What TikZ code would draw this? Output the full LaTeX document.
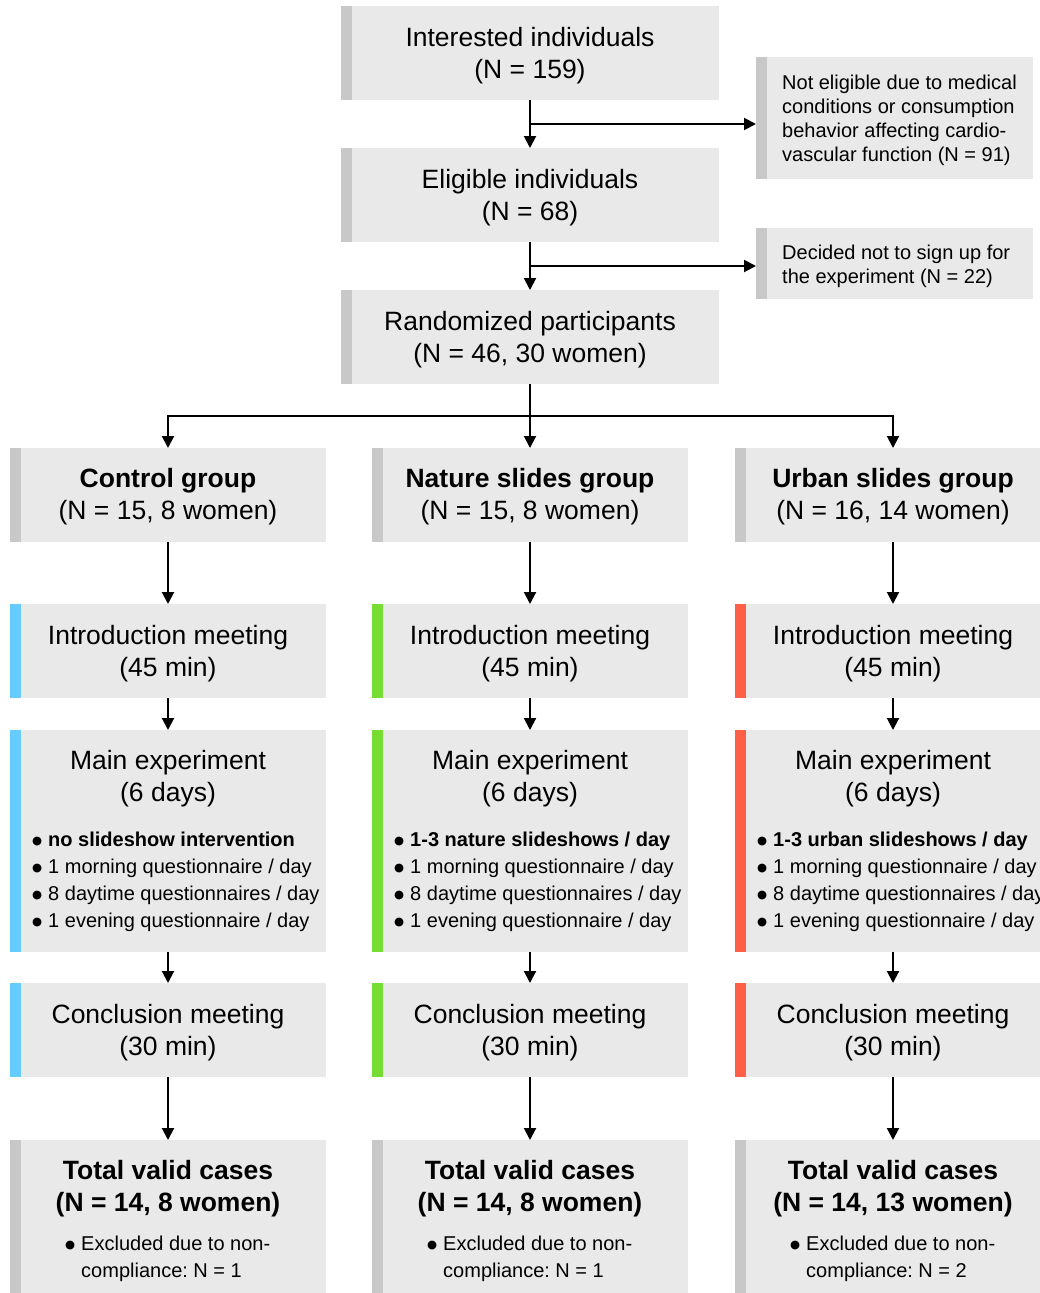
\documentclass[tikz,border=0pt]{standalone}
\usepackage{fontspec}
\setmainfont{Liberation Sans}
\newfontfamily\djfont{DejaVu Sans}
\usetikzlibrary{arrows.meta}
\frenchspacing
\definecolor{boxgray}{RGB}{233,233,233}
\definecolor{bargray}{RGB}{200,200,200}
\definecolor{cblue}{RGB}{102,204,255}
\definecolor{cgreen}{RGB}{119,221,51}
\definecolor{cred}{RGB}{255,95,70}
\newcommand{\bul}{\raisebox{2pt}{\djfont\fontsize{11.5}{11.5}\selectfont ●}\hspace{0.3em}}
\tikzset{
  box/.style 2 args={fill=boxgray, minimum width=#1, minimum height=#2, inner sep=0pt, outer sep=0pt},
  bar/.style={path picture={\fill[#1] (path picture bounding box.north west) rectangle ([xshift=11pt]path picture bounding box.south west);}},
  big/.style={font=\fontsize{26.5}{32}\selectfont, align=center, inner sep=0pt},
  small/.style={font=\fontsize{20}{24}\selectfont, align=left, inner sep=0pt},
  lst/.style={font=\fontsize{20}{27}\selectfont, align=left, inner sep=0pt},
  arr/.style={line width=2pt, -{Triangle[length=12pt,width=12pt]}}
}
\begin{document}
\begin{tikzpicture}[x=1pt,y=-1pt]
\path[use as bounding box] (0,0) rectangle (1040,1293);
\clip (0,0) rectangle (1040,1293);

% top column
\node[box={378pt}{94pt}, bar=bargray] (top) at (530,53) {};
\path (top.center) ++(0,2.5) node[big] {Interested individuals\\(N = 159)};
\node[box={378pt}{94pt}, bar=bargray] (elig) at (530,195) {};
\path (elig.center) ++(0,2.5) node[big] {Eligible individuals\\(N = 68)};
\node[box={378pt}{94pt}, bar=bargray] (rand) at (530,337) {};
\path (rand.center) ++(0,2.5) node[big] {Randomized participants\\(N = 46, 30 women)};

\node[box={277pt}{122pt}, bar=bargray] (side1) at (894.5,118) {};
\path (side1.west) ++(26,2.5) node[small, anchor=west] {Not eligible due to medical\\conditions or consumption\\behavior affecting cardio-\\vascular function (N = 91)};
\node[box={277pt}{71pt}, bar=bargray] (side2) at (894.5,263.5) {};
\path (side2.west) ++(26,2.5) node[small, anchor=west] {Decided not to sign up for\\the experiment (N = 22)};

\draw[arr] (top) -- (elig);
\draw[arr] (elig) -- (rand);
\coordinate (j1) at (530,124);
\coordinate (j2) at (530,266);
\draw[arr] (j1) -- (j1 -| side1.west);
\draw[arr] (j2) -- (j2 -| side2.west);

% groups
\node[box={316pt}{94pt}, bar=bargray] (g1) at (168,495) {};
\path (g1.center) ++(0,2) node[big] {\textbf{Control group}\\(N = 15, 8 women)};
\node[box={316pt}{94pt}, bar=bargray] (g2) at (530,495) {};
\path (g2.center) ++(0,2) node[big] {\textbf{Nature slides group}\\(N = 15, 8 women)};
\node[box={316pt}{94pt}, bar=bargray] (g3) at (893,495) {};
\path (g3.center) ++(0,2) node[big] {\textbf{Urban slides group}\\(N = 16, 14 women)};

\coordinate (split) at (530,416);
\draw[arr] (rand) -- (g2);
\draw[arr] (split) -| (g1.north);
\draw[arr] (split) -| (g3.north);

% columns
\foreach \i/\x/\c/\a in {1/168/cblue/\textbf{no slideshow intervention},
                          2/530/cgreen/\textbf{1-3 nature slideshows / day},
                          3/893/cred/\textbf{1-3 urban slideshows / day}}{
  \node[box={316pt}{94pt}, bar=\c] (in\i) at (\x,651) {};
  \path (in\i.center) ++(0,2.5) node[big] {Introduction meeting\\(45 min)};
  \node[box={316pt}{222pt}, bar=\c] (m\i) at (\x,841) {};
  \path (m\i.north) ++(0,48.5) node[big] {Main experiment\\(6 days)};
  \path (m\i.west) ++(22,41) node[lst, anchor=west] {\bul\a\\\bul 1 morning questionnaire / day\\\bul 8 daytime questionnaires / day\\\bul 1 evening questionnaire / day};
  \node[box={316pt}{94pt}, bar=\c] (c\i) at (\x,1030) {};
  \path (c\i.center) ++(0,2.5) node[big] {Conclusion meeting\\(30 min)};
  \node[box={316pt}{170pt}, bar=bargray] (t\i) at (\x,1225) {};
  \draw[arr] (g\i) -- (in\i);
  \draw[arr] (in\i) -- (m\i);
  \draw[arr] (m\i) -- (c\i);
  \draw[arr] (c\i) -- (t\i);
}
\path (t1.north) ++(0,49) node[big] {\textbf{Total valid cases}\\\textbf{(N = 14, 8 women)}};
\path (t2.north) ++(0,49) node[big] {\textbf{Total valid cases}\\\textbf{(N = 14, 8 women)}};
\path (t3.north) ++(0,49) node[big] {\textbf{Total valid cases}\\\textbf{(N = 14, 13 women)}};
\path (t1.north west) ++(55,119) node[lst, anchor=west] {\bul Excluded due to non-\\\hphantom{\bul}compliance: N = 1};
\path (t2.north west) ++(55,119) node[lst, anchor=west] {\bul Excluded due to non-\\\hphantom{\bul}compliance: N = 1};
\path (t3.north west) ++(55,119) node[lst, anchor=west] {\bul Excluded due to non-\\\hphantom{\bul}compliance: N = 2};
\end{tikzpicture}
\end{document}
